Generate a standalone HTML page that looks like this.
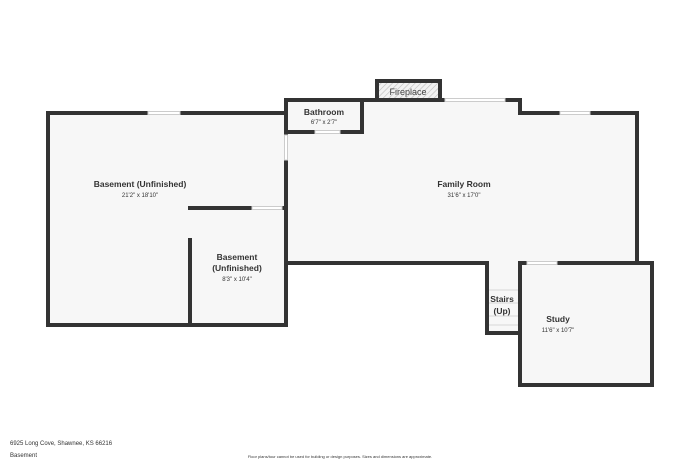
<!DOCTYPE html>
<html><head><meta charset="utf-8"><style>
html,body{margin:0;padding:0;background:#fff;}
svg{display:block;font-family:"Liberation Sans",sans-serif;}
</style></head><body>
<svg width="700" height="466" viewBox="0 0 700 466" xmlns="http://www.w3.org/2000/svg">
<defs>
<pattern id="h" width="4" height="4" patternUnits="userSpaceOnUse" patternTransform="rotate(45)">
<rect width="4" height="4" fill="#f2f2f2"/><line x1="0" y1="0" x2="0" y2="4" stroke="#bbb" stroke-width="1.2"/>
</pattern>
</defs>
<!-- floor fills -->
<g fill="#f7f7f7">
<rect x="48" y="113" width="238" height="212"/>
<rect x="286" y="100" width="234" height="163"/>
<rect x="520" y="113" width="117" height="150"/>
<rect x="487" y="263" width="33" height="70"/>
<rect x="520" y="263" width="132" height="122"/>
</g>
<rect x="377" y="80" width="63" height="20" fill="url(#h)"/>
<g stroke="#333" stroke-width="4" fill="none" stroke-linecap="square">
<!-- left basement -->
<polyline points="148,113 48,113 48,325 286,325 286,160"/>
<line x1="180" y1="113" x2="286" y2="113"/>
<line x1="286" y1="113" x2="286" y2="135"/>
<line x1="190" y1="208" x2="252" y2="208"/>
<line x1="282" y1="208" x2="286" y2="208"/>
<line x1="190" y1="240" x2="190" y2="325"/>
<!-- bathroom -->
<polyline points="286,113 286,100 362,100 362,132 340,132"/>
<line x1="286" y1="132" x2="315" y2="132"/>
<!-- fireplace -->
<rect x="377" y="81" width="63" height="19"/>
<!-- family room -->
<line x1="362" y1="100" x2="445" y2="100"/>
<polyline points="505,100 520,100 520,113 560,113"/>
<polyline points="590,113 637,113 637,263"/>
<polyline points="286,263 487,263 487,333 520,333"/>
<!-- study -->
<polyline points="527,263 520,263 520,385 652,385 652,263 557,263"/>
</g>
<!-- windows -->
<g stroke="#ccc" stroke-width="1" fill="#fff">
<rect x="148" y="111.5" width="32" height="3"/>
<rect x="284.5" y="135" width="3" height="25"/>
<rect x="252" y="206.5" width="30" height="3"/>
<rect x="315" y="130.5" width="25" height="3"/>
<rect x="445" y="98.5" width="60" height="3"/>
<rect x="560" y="111.5" width="30" height="3"/>
<rect x="527" y="261.5" width="30" height="3"/>
</g>
<g stroke="#ccc" stroke-width="0.8">
<line x1="489" y1="290" x2="518" y2="290"/>
<line x1="489" y1="303" x2="518" y2="303"/>
<line x1="489" y1="316" x2="518" y2="316"/>
<line x1="489" y1="325" x2="518" y2="325"/>
</g>
<g fill="#333" text-anchor="middle">
<text x="408" y="95" font-size="9" fill="#444">Fireplace</text>
<text x="324" y="115" font-size="8.5" font-weight="bold">Bathroom</text>
<text x="324" y="124" font-size="6">6'7" x 2'7"</text>
<text x="140" y="187" font-size="8.5" font-weight="bold">Basement (Unfinished)</text>
<text x="140" y="197" font-size="6">21'2" x 18'10"</text>
<text x="464" y="187" font-size="8.5" font-weight="bold">Family Room</text>
<text x="464" y="197" font-size="6">31'6" x 17'0"</text>
<text x="237" y="260" font-size="8.5" font-weight="bold">Basement</text>
<text x="237" y="271" font-size="8.5" font-weight="bold">(Unfinished)</text>
<text x="237" y="281" font-size="6">8'3" x 10'4"</text>
<text x="502" y="302" font-size="8.5" font-weight="bold">Stairs</text>
<text x="502" y="314" font-size="8.5" font-weight="bold">(Up)</text>
<text x="558" y="322" font-size="8.5" font-weight="bold">Study</text>
<text x="558" y="332" font-size="6">11'6" x 10'7"</text>
<text x="340" y="458" font-size="4">Floor plans/tour cannot be used for building or design purposes. Sizes and dimensions are approximate.</text>
</g>
<text x="10" y="445" font-size="6" fill="#333">6925 Long Cove, Shawnee, KS 66216</text>
<text x="10" y="457" font-size="6" fill="#333">Basement</text>
</svg>
</body></html>
